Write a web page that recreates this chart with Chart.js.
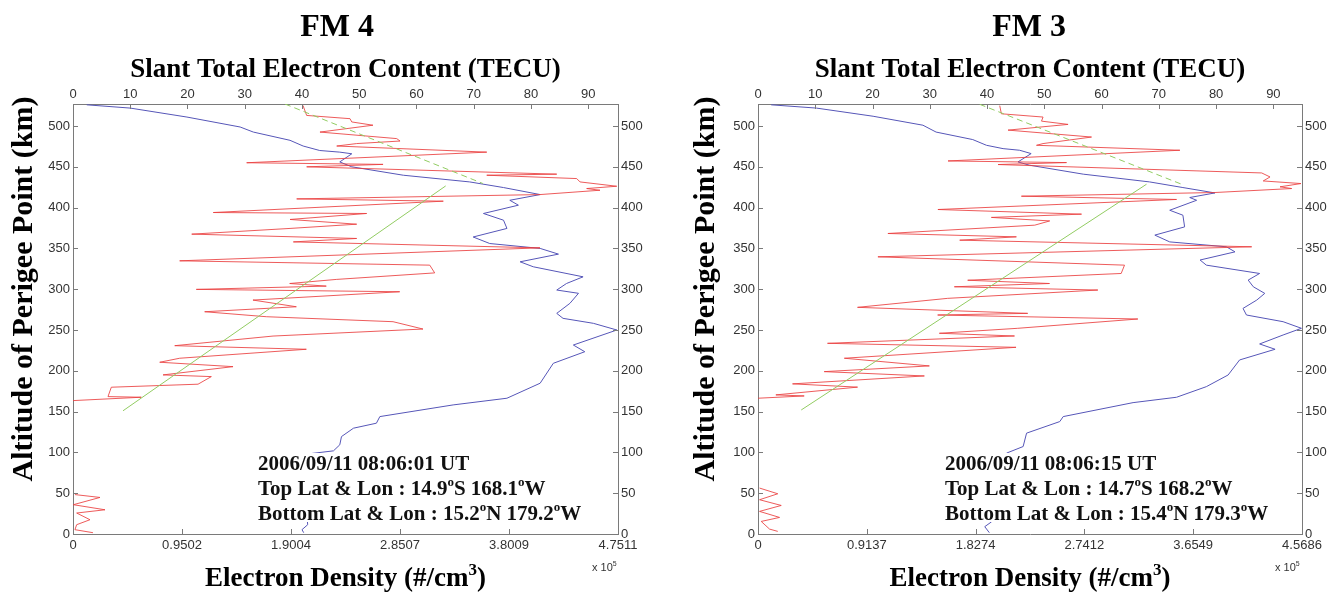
<!DOCTYPE html>
<html>
<head>
<meta charset="utf-8">
<script src="https://cdn.jsdelivr.net/npm/chart.js@4.4.0/dist/chart.umd.min.js"></script>
<style>
  html, body { margin: 0; padding: 0; background: #fff; overflow: hidden; }
  #wrap { position: relative; width: 1342px; height: 596px; }
  canvas { position: absolute; top: 0; }
  #fm4 { left: 0; }
  #fm3 { left: 671px; }
</style>
</head>
<body>
<div id="wrap">
  <canvas id="fm4" width="671" height="596"></canvas>
  <canvas id="fm3" width="671" height="596"></canvas>
</div>
<script>
// ── Data ───────────────────────────────────────────────────────────────────
// altitude in km, electron density in 1e5 #/cm3, slant TEC in TECU

const altTicks = [0, 50, 100, 150, 200, 250, 300, 350, 400, 450, 500];
const tecTicks = [0, 10, 20, 30, 40, 50, 60, 70, 80, 90];

// FM 4
const fm4NeTicks  = [0, 0.9502, 1.9004, 2.8507, 3.8009, 4.7511];
const fm4NeLabels = ['0', '0.9502', '1.9004', '2.8507', '3.8009', '4.7511'];

const fm4RedAlt = [525.2, 513, 509, 505, 501, 492.6, 484.6, 481.6, 478.5, 475.5, 468, 455, 453, 450,
  441, 439.7, 435.6, 431.5, 426.2, 423.4, 421.3, 416, 410.7, 407.9, 394, 392.8, 385.5, 379.7, 374.5,
  367.5, 362.2, 358, 350.7, 334.8, 329.5, 320, 312, 307, 303.8, 299.8, 296.9, 286.7, 278.5, 272.4,
  266.3, 260.2, 251.2, 242.6, 230.8, 226.4, 215.4, 210.5, 205.1, 195, 192.9, 183.6, 179.9, 168.4,
  167.6, 163.5];
const fm4RedNe = [2.005, 2.037, 2.415, 2.430, 2.615, 2.153, 2.822, 2.851, 2.473, 2.299, 3.607, 1.514,
  2.703, 2.037, 4.217, 3.607, 4.391, 4.420, 4.740, 4.478, 4.594, 4.071, 1.950, 3.228, 1.223, 2.560,
  1.892, 2.473, 1.892, 1.035, 2.473, 1.921, 4.071, 0.930, 3.110, 3.153, 2.295, 1.889, 2.208, 1.075,
  2.848, 1.569, 1.947, 1.148, 1.685, 2.790, 3.051, 1.744, 0.887, 2.034, 0.930, 0.756, 1.395, 0.785,
  1.206, 1.090, 0.334, 0.305, 0.595, 0];
const fm4RedLowAlt = [48.3, 44.8, 35.9, 29.7, 25.7, 17.5, 11.4, 5.3, 1.6];
const fm4RedLowNe  = [0.017, 0.235, 0.003, 0.279, 0.032, 0.148, 0.032, 0.017, 0.174];

const fm4BlueAlt = [526, 522, 511, 498.8, 492.6, 482.5, 475.5, 470, 468, 466, 456, 450, 439.7, 431.5,
  424.6, 416, 409, 403, 392.8, 384.6, 374.5, 364, 356, 350, 343, 333.6, 327.5, 315.2, 307, 299, 295,
  282.7, 270.4, 264.3, 258.2, 250, 231.6, 223.4, 209.2, 184.8, 166.4, 158.2, 143.9, 135.8, 129.7,
  119.4, 109.3, 101.9, 97, 11.4, 5.3, 1.6];
const fm4BlueTec = [2.4, 10, 19.9, 29.2, 31.5, 37.9, 40.2, 43.1, 46.6, 48.7, 46.6, 48.7, 57.7, 69.3,
  75.2, 81.6, 76.3, 77.8, 71.7, 75.2, 75.8, 69.9, 72.8, 81.6, 84.8, 78.1, 80.4, 89.1, 86.2, 84.5, 88.3,
  86.8, 84.5, 85.6, 90.9, 95.0, 87.4, 89.4, 83.9, 81.6, 75.8, 66.4, 53.6, 53.0, 49.0, 46.9, 46.6, 45.5,
  39.7, 41.0, 40.0, 40.3];

const fm4FitAlt  = [151, 426.6];
const fm4FitNe   = [0.436, 3.249];
const fm4TopAlt  = [527, 429.5];
const fm4TopNe   = [1.848, 3.574];

// FM 3
const fm3NeTicks  = [0, 0.9137, 1.8274, 2.7412, 3.6549, 4.5686];
const fm3NeLabels = ['0', '0.9137', '1.8274', '2.7412', '3.6549', '4.5686'];

const fm3RedAlt = [525, 515, 511, 506, 502, 495, 486.5, 478.5, 476.4, 470.3, 457.2, 455.2, 452.8,
  442.5, 437.6, 432.7, 429.5, 425.5, 423.4, 418.5, 414, 410, 397.7, 392, 388, 383.7, 378.5, 368.3,
  364.2, 360.1, 352, 339.7, 329.5, 319.3, 311, 307, 303, 299, 288.8, 277.8, 270.4, 268.4, 263.5,
  252.1, 246, 242.7, 233.7, 228.8, 215.4, 206, 199, 193.7, 184, 180, 170.5, 169.2, 166.4];
const fm3RedNe = [2.030, 2.044, 2.394, 2.381, 2.604, 2.100, 2.801, 2.394, 2.339, 3.543, 1.596, 2.591,
  2.016, 4.230, 4.300, 4.243, 4.560, 4.384, 4.482, 3.837, 2.212, 3.515, 1.511, 2.717, 1.960, 2.450,
  2.324, 1.091, 2.170, 1.694, 4.146, 1.007, 3.078, 3.050, 1.761, 2.448, 1.649, 2.854, 1.593, 0.836,
  2.265, 1.509, 3.190, 2.181, 1.523, 2.154, 0.584, 2.167, 0.725, 1.439, 0.556, 1.397, 0.290, 0.836,
  0.150, 0.388, 0];
const fm3RedLowAlt = [56.3, 49.3, 42, 35, 27.7, 20.3, 15.4, 6, 3.2];
const fm3RedLowNe  = [0.013, 0.166, 0.013, 0.195, 0.013, 0.181, 0.027, 0.097, 0.166];

const fm3BlueAlt = [526, 522, 512, 501, 492.6, 483.4, 476.4, 472.3, 470.3, 466.2, 456, 452, 441,
  431.5, 424.6, 418, 412.4, 409, 396.8, 390.7, 376.4, 366.3, 358, 352, 345.8, 335.8, 329.5, 319.3,
  311.2, 303, 294.9, 286.7, 276.5, 268.4, 260.2, 252.1, 243.9, 232.9, 226.4, 213.3, 194.9, 180.6,
  167.6, 161, 143.9, 137.8, 123.6, 107.2, 99.1, 15, 9, 1.6];
const fm3BlueTec = [2.3, 10.2, 20.1, 28.8, 31.1, 37.5, 39.9, 42.8, 45.7, 47.7, 45.4, 47.4, 56.8, 68.4,
  74.2, 79.8, 75.4, 76.6, 71.9, 74.2, 74.5, 69.3, 71.9, 81.8, 83.3, 77.2, 78.3, 87.6, 85.6, 86.5, 88.5,
  87.1, 84.7, 85.3, 91.7, 94.9, 91.7, 87.6, 90.3, 84.1, 82.1, 78.3, 73.1, 65.5, 53.3, 52.7, 46.9, 46.3,
  43.4, 40.8, 39.6, 40.4];

const fm3FitAlt = [152, 428.7];
const fm3FitNe  = [0.363, 3.263];
const fm3TopAlt = [526.6, 428.7];
const fm3TopNe  = [1.862, 3.557];

// ── Styling ────────────────────────────────────────────────────────────────

const SERIF = '"Liberation Serif", "Times New Roman", serif';
const SANS  = '"Liberation Sans", Arial, sans-serif';
const AXIS  = '#7a7a7a';
const RED   = 'rgba(234,62,62,0.85)';
const BLUE  = '#5656b8';
const GREEN = '#92cc62';

const SUP = { '°': 'o', '³': '3', '⁵': '5' };

function drawRich(ctx, text, x, y, size, align, family, weight) {
  const parts = [];
  for (const ch of text) {
    const sup = ch in SUP;
    const c = sup ? SUP[ch] : ch;
    const last = parts[parts.length - 1];
    if (last && last.sup === sup) last.t += c; else parts.push({ t: c, sup });
  }
  const big = `${weight} ${size}px ${family}`;
  const small = `${weight} ${Math.round(size * 0.62)}px ${family}`;
  let w = 0;
  parts.forEach(p => { ctx.font = p.sup ? small : big; p.w = ctx.measureText(p.t).width; w += p.w; });
  let cx = align === 'center' ? x - w / 2 : x;
  ctx.textAlign = 'left';
  ctx.textBaseline = 'alphabetic';
  parts.forEach(p => {
    ctx.font = p.sup ? small : big;
    ctx.fillText(p.t, cx, p.sup ? y - size * 0.42 : y);
    cx += p.w;
  });
}

const panelText = {
  id: 'panelText',
  afterDatasetsDraw(chart, args, o) {
    const { ctx } = chart;
    ctx.save();
    ctx.fillStyle = '#fff';
    ctx.fillRect(o.box[0], o.box[1], o.box[2], o.box[3]);
    ctx.fillStyle = '#111';
    o.note.forEach((line, i) => drawRich(ctx, line, o.noteX, 470 + i * 25, 21, 'left', SERIF, 'bold'));
    ctx.restore();
  },
  afterDraw(chart, args, o) {
    const { ctx, chartArea: a, scales } = chart;
    ctx.save();
    // MATLAB style inward tick marks
    ctx.strokeStyle = AXIS;
    ctx.lineWidth = 1;
    ctx.beginPath();
    Object.values(scales).forEach(s => {
      s.ticks.forEach(t => {
        const p = Math.round(s.getPixelForValue(t.value)) + 0.5;
        if (s.position === 'bottom') { ctx.moveTo(p, a.bottom); ctx.lineTo(p, a.bottom - 5); }
        if (s.position === 'top')    { ctx.moveTo(p, a.top);    ctx.lineTo(p, a.top + 5); }
        if (s.position === 'left')   { ctx.moveTo(a.left, p);   ctx.lineTo(a.left + 5, p); }
        if (s.position === 'right')  { ctx.moveTo(a.right, p);  ctx.lineTo(a.right - 5, p); }
      });
    });
    ctx.stroke();

    const cx = (a.left + a.right) / 2;
    ctx.fillStyle = '#000';
    drawRich(ctx, o.title, o.titleX, 36, 32, 'center', SERIF, 'bold');
    drawRich(ctx, 'Slant Total Electron Content (TECU)', cx, 77, 27, 'center', SERIF, 'bold');
    drawRich(ctx, 'Electron Density (#/cm³)', cx, 586, 27, 'center', SERIF, 'bold');
    ctx.fillStyle = '#333';
    drawRich(ctx, 'x 10⁵', o.expX, 571, 11, 'left', SANS, 'normal');
    ctx.translate(o.yTitleX, 289);
    ctx.rotate(-Math.PI / 2);
    ctx.fillStyle = '#000';
    drawRich(ctx, 'Altitude of Perigee Point (km)', 0, 0, 30, 'center', SERIF, 'bold');
    ctx.restore();
  }
};

const zip = (xs, ys) => xs.map((x, i) => ({ x, y: ys[i] }));

function line(data, color, xAxisID, dash) {
  return {
    data, xAxisID, yAxisID: 'y',
    showLine: true, borderColor: color, borderWidth: 1, borderDash: dash || [],
    pointRadius: 0, tension: 0, fill: false,
  };
}

function fixedScale(position, min, max, values, labels, size, pad) {
  const horizontal = position === 'top' || position === 'bottom';
  return {
    type: 'linear', position, min, max,
    afterBuildTicks: s => { s.ticks = values.map(v => ({ value: v })); },
    afterFit: s => { if (horizontal) s.height = size; else s.width = size; },
    grid: { drawOnChartArea: false, drawTicks: false },
    border: { color: AXIS, width: 1 },
    ticks: {
      autoSkip: false, maxRotation: 0, padding: pad, color: '#333',
      font: { family: SANS, size: 13 },
      callback: (v, i) => labels[i],
    },
  };
}

function makePanel(id, p) {
  return new Chart(document.getElementById(id), {
    type: 'scatter',
    data: {
      datasets: [
        line(zip(p.fitNe, p.fitAlt), GREEN, 'x'),
        line(zip(p.topNe, p.topAlt), GREEN, 'x', [6, 4]),
        line(zip(p.redNe, p.redAlt), RED, 'x'),
        line(zip(p.redLowNe, p.redLowAlt), RED, 'x'),
        line(zip(p.blueTec, p.blueAlt), BLUE, 'xTop'),
      ],
    },
    options: {
      responsive: false, animation: false, devicePixelRatio: 1,
      layout: { padding: 0 },
      plugins: { legend: { display: false }, tooltip: { enabled: false }, panelText: p.text },
      scales: {
        x:      fixedScale('bottom', 0, p.neTicks[5], p.neTicks, p.neLabels, 62, 4),
        xTop:   fixedScale('top', 0, p.tecMax, tecTicks, tecTicks.map(String), 104, 2),
        y:      fixedScale('left', 0, 527, altTicks, altTicks.map(String), p.leftW, 3),
        yRight: fixedScale('right', 0, 527, altTicks, altTicks.map(String), p.rightW, 3),
      },
    },
    plugins: [panelText],
  });
}

makePanel('fm4', {
  neTicks: fm4NeTicks, neLabels: fm4NeLabels, tecMax: 95.2, leftW: 73, rightW: 53,
  redNe: fm4RedNe, redAlt: fm4RedAlt, redLowNe: fm4RedLowNe, redLowAlt: fm4RedLowAlt,
  blueTec: fm4BlueTec, blueAlt: fm4BlueAlt,
  fitNe: fm4FitNe, fitAlt: fm4FitAlt, topNe: fm4TopNe, topAlt: fm4TopAlt,
  text: {
    title: 'FM 4', titleX: 337, yTitleX: 32, expX: 592,
    box: [252, 453, 356, 69], noteX: 258,
    note: ['2006/09/11 08:06:01 UT', 'Top Lat & Lon : 14.9°S 168.1°W', 'Bottom Lat & Lon : 15.2°N 179.2°W'],
  },
});

makePanel('fm3', {
  neTicks: fm3NeTicks, neLabels: fm3NeLabels, tecMax: 95.0, leftW: 87, rightW: 40,
  redNe: fm3RedNe, redAlt: fm3RedAlt, redLowNe: fm3RedLowNe, redLowAlt: fm3RedLowAlt,
  blueTec: fm3BlueTec, blueAlt: fm3BlueAlt,
  fitNe: fm3FitNe, fitAlt: fm3FitAlt, topNe: fm3TopNe, topAlt: fm3TopAlt,
  text: {
    title: 'FM 3', titleX: 358, yTitleX: 43, expX: 604,
    box: [268, 453, 352, 69], noteX: 274,
    note: ['2006/09/11 08:06:15 UT', 'Top Lat & Lon : 14.7°S 168.2°W', 'Bottom Lat & Lon : 15.4°N 179.3°W'],
  },
});
</script>
</body>
</html>
